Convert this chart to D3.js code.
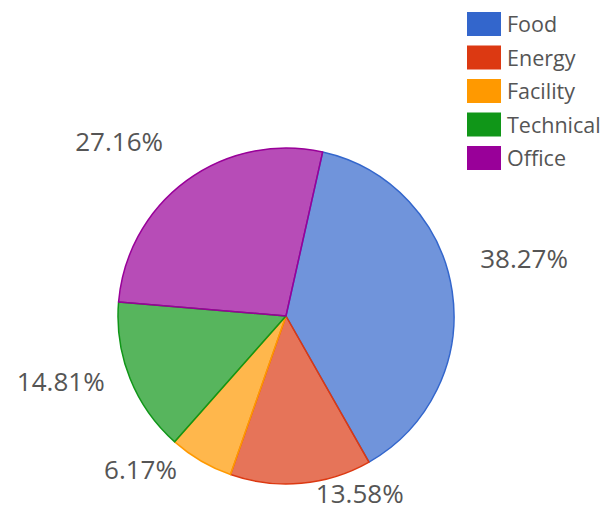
<!DOCTYPE html>
<html>
<head>
<meta charset="utf-8">
<script src="https://cdn.jsdelivr.net/npm/d3@7"></script>
<style>
  body { margin: 0; background: #fff; }
  text { font-family: "Open Sans", sans-serif; }
</style>
</head>
<body>
<div id="chart-area"></div>
<script>
var categories = ["Food", "Energy", "Facility", "Technical", "Office"];
var shares = [38.27, 13.58, 6.17, 14.81, 27.16];
var colors = ["#3366cc", "#dc3912", "#ff9900", "#109618", "#990099"];

var width = 606, height = 510;
var cx = 286, cy = 316, radius = 168;
var startDeg = 12.6;
// small nudges (degrees, px) so outside labels sit where the original put them
var labelShift = [-5, -15, 13, 5.5, -7.5];
var labelPush = [10, 0, -10, 0, 14];

var svg = d3.select("#chart-area")
    .append("svg")
    .attr("width", width)
    .attr("height", height);

var data = categories.map((c, i) => ({
    name: c, value: shares[i], color: colors[i],
    shift: labelShift[i], push: labelPush[i]
}));

var pie = d3.pie()
    .sort(null)
    .value(d => d.value)
    .startAngle(startDeg * Math.PI / 180)
    .endAngle(startDeg * Math.PI / 180 + 2 * Math.PI);

var arc = d3.arc().innerRadius(0).outerRadius(radius);

var g = svg.append("g")
    .attr("transform", "translate(" + cx + "," + cy + ")");

var arcs = pie(data);

g.selectAll("path")
    .data(arcs)
    .enter()
    .append("path")
    .attr("d", arc)
    .attr("fill", d => d.data.color)
    .attr("fill-opacity", 0.7)
    .attr("stroke", d => d.data.color)
    .attr("stroke-width", 1.5)
    .attr("stroke-linejoin", "round");

// percentage labels outside the pie
var fmt = d => d3.format(".2f")(d) + "%";
var labelSize = 26;
var gap = 22;

var labels = g.selectAll(".value-label")
    .data(arcs)
    .enter()
    .append("text")
    .attr("class", "value-label")
    .attr("font-size", labelSize + "px")
    .attr("fill", "#555")
    .attr("text-anchor", "middle")
    .text(d => fmt(d.data.value));

labels.each(function(d) {
    var t = d3.select(this);
    var w = this.getComputedTextLength();
    var h = labelSize * 0.72;
    var a = (d.startAngle + d.endAngle) / 2 + d.data.shift * Math.PI / 180;
    var s = Math.sin(a), c = -Math.cos(a);
    var r = radius + gap + d.data.push + Math.abs(s) * w / 2 + Math.abs(c) * h / 2;
    var x = s * r;
    var y = c * r;
    // keep the label inside the picture
    var maxY = height - cy - 7 - h / 2;
    if (y > maxY) y = maxY;
    t.attr("x", x).attr("y", y + h / 2);
});

// legend
var legendY = d3.scaleBand()
    .domain(categories)
    .range([12, 12 + 33.5 * categories.length]);

var legend = svg.append("g").attr("class", "legend");

legend.selectAll("rect")
    .data(data)
    .enter()
    .append("rect")
    .attr("x", 467)
    .attr("y", d => legendY(d.name))
    .attr("width", 34)
    .attr("height", 24)
    .attr("fill", d => d.color);

legend.selectAll("text")
    .data(data)
    .enter()
    .append("text")
    .attr("x", 507)
    .attr("y", d => legendY(d.name) + 20)
    .attr("font-size", "21.5px")
    .attr("fill", "#555")
    .text(d => d.name);
</script>
</body>
</html>
